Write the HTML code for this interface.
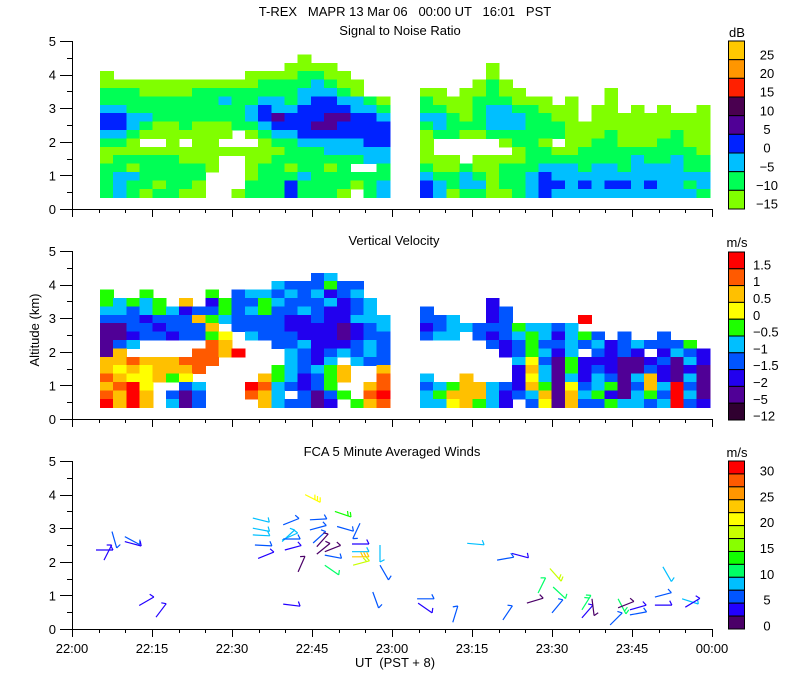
<!DOCTYPE html>
<html><head><meta charset="utf-8"><title>T-REX MAPR</title>
<style>
html,body{margin:0;padding:0;background:#fff;}
svg{display:block;font-family:"Liberation Sans",sans-serif;}
text{fill:#000;font-size:13px;}
</style></head>
<body>
<svg id="chart" width="800" height="700" viewBox="0 0 800 700" xmlns="http://www.w3.org/2000/svg">
<rect width="800" height="700" fill="#fff"/>
<text x="405" y="16" text-anchor="middle" xml:space="preserve">T-REX   MAPR 13 Mar 06   00:00 UT   16:01   PST</text>
<text x="400" y="35" text-anchor="middle">Signal to Noise Ratio</text>
<text x="394" y="245" text-anchor="middle">Vertical Velocity</text>
<text x="392" y="456" text-anchor="middle">FCA 5 Minute Averaged Winds</text>
<text x="737" y="37" text-anchor="middle">dB</text>
<text x="737" y="247" text-anchor="middle">m/s</text>
<text x="737" y="457" text-anchor="middle">m/s</text>
<text x="395" y="667" text-anchor="middle" xml:space="preserve">UT  (PST + 8)</text>
<text transform="translate(39,330) rotate(-90)" text-anchor="middle" font-size="12">Altitude (km)</text>
<g id="layer"></g>
</svg>
<script>
// ---- data ----
const blockStartMin = [5.25, 65.25];
const colStepMin = 2.47;
const rowBaseKm = 0.35;
const rowStepKm = 0.25;
const snrLeft = [
"...............a......",
"..............aaaa....",
"a..........aaaabbaa...",
"aaaaaaaaaaaabbbbcbaa..",
"bbbaaaabbbbbbbbcccba..",
"bbbbbbbbbcbbccbcddccba",
"ccbbbbbbbbbcdccddddccb",
"ddccbbbbbbbcdedddeeddc",
"ddcbaabaaabbcdddeedddd",
"ccbaaaaaaa.abccddddddd",
"bba..a.aa...abbcccccdd",
"aaaaaaaaaaaaaabbbccccc",
"abbbbbaaa..aabbbbbbbcc",
"bbabbbbba..abbabbab..b",
"bccbbbbb...abbbcbbbbbb",
"bcbbabba...bbbdbbbbabc",
"bcbabbaa..abbbdbbba.bc"];
const snrRight = [
"......................",
".....a................",
".....a................",
"....aba...............",
"aa.aabaa......a.......",
"baaabbbaaa.a..a.......",
"bbaabccbbaaa.aa.a.a..a",
"ccbabcccbbaa.aaaaaaaaa",
"bcbbbcccbbbaaaaaaaaaaa",
"abbaabbbbbbaaabaaaabaa",
"a.....abba.aabbaaabbaa",
"a......abbaabbbbbbbbba",
"aaa.aaaabbbbbbbbcbbcbb",
"baabaabbbcccbccbccccbb",
"cbbcbabbcdcccccccccccc",
"dcbccabbcddcdcddcdccbc",
"dcabbaabcdcccccccccccb"];
const velLeft = [
"......................",
"................bc....",
".............cbbbgbb..",
"g..g....g.bccbcbcBbc..",
"gcgcg.y.BgbbgcbbbcBbc.",
"ccbcgcBbbgbcgbbcbBBbc.",
"bbbBbbbygcbbbbBBbBBccc",
"ppbbBbbby.bbbbBBBBpBbc",
"ppBbbBbbgY.cbbbBBBpBbb",
"pbc.....oy...bbcBBBbcb",
"py.....ooyr...cbBbcbcb",
"yyoyyyooo.....cbBc.cbb",
"yYyYyyyo.....gcbcgy..y",
"oyYYygY.....ygcBbgy..o",
"yorY..bc...rocbBbg..yo",
"oyry.bpb...oyc.bpbg.or",
"ryry.cpb....ycbbpB.gyo"];
const velRight = [
"......................",
"......................",
"......................",
"......................",
".....B................",
"b....Bb...............",
"bbc..Bb.....r.........",
"Bbccbbbgccbc..........",
"bcc.bBbcgcBcgb.b..b...",
".....bBbgbbcbcBbcbbbg.",
"......BbgcBc.bBbB.BcbB",
".......cYbpgBBBppBbpcB",
".......BycpgBbBppbBpBp",
"c..y...BYcpcBcbpcyBpcp",
"bcgyycbBygpYbcgpbycrbp",
"cgyyycBbcypycgBpcgbrcp",
"ccYygcB.bYpybbgccbcrbB"];
const snrColors = {a:'#80ff00',b:'#00ff55',c:'#00bfff',d:'#0022ff',e:'#500096',f:'#4a0050'};
const velColors = {r:'#ff0000',o:'#ff5a00',y:'#ffc000',Y:'#ffff00',g:'#1eff00',c:'#00bfff',b:'#0055ff',B:'#2200ee',p:'#500096',k:'#300030'};
const snrBarLabels = ['25','20','15','10','5','0','\u22125','\u221210','\u221215'];
const snrBarColors = ['#ffc800','#ff9600','#ff2000','#4a0050','#500096','#0022ff','#00bfff','#00ff55','#80ff00'];
const velBarLabels = ['1.5','1','0.5','0','\u22120.5','\u22121','\u22121.5','\u22122','\u22125','\u221212'];
const velBarColors = ['#ff0000','#ff5a00','#ffc000','#ffff00','#1eff00','#00bfff','#0055ff','#2200ee','#500096','#300030'];
const windBarColors = ['#ff0000','#ff5a00','#ff9600','#ffc800','#ffff00','#c8ff00','#88ff00','#11ff00','#00ff66','#00bfff','#0055ff','#2200ff','#4b0068'];
const windBarLabels = ['30','25','20','15','10','5','0'];
const windTime = [4.5,6.0,7.5,9.9,9.9,12.6,15.75,33.9,33.9,33.9,34.3,34.9,39.6,39.4,39.4,39.6,39.9,42.4,39.6,44.6,44.6,45.2,45.9,45.9,47.4,47.4,47.4,43.7,49.3,49.7,54.0,52.5,52.5,52.5,52.7,57.75,57.75,56.4,74.1,79.7,82.5,64.7,64.9,71.4,80.8,85.3,87.4,89.6,90.2,90.0,95.6,95.6,97.5,100.9,102.4,102.4,104.6,104.6,109.3,109.3,110.8,114.4,115.0];
const windAlt = [2.35,2.05,2.9,2.75,2.6,0.7,0.35,3.3,3.0,2.8,2.5,2.1,3.1,2.6,2.65,2.68,2.35,1.7,0.74,3.25,2.95,2.56,2.45,2.23,2.3,2.2,1.9,4.0,3.5,3.05,3.15,2.53,2.3,2.15,1.9,2.5,1.9,1.1,2.55,2.05,2.25,0.9,0.77,0.2,0.27,0.77,1.07,1.8,1.25,0.48,0.57,0.33,0.9,0.12,0.9,0.63,0.57,0.42,0.95,0.71,1.85,0.9,0.65];
const windDir = [0,-63,74,28,15,-30,-53,14,11,3,3,-22,-22,-43,-24,0,-15,-66,7,-3,-15,-42,-48,-39,-22,11,35,27,19,16,115,0,0,0,-15,90,60,70,5,-10,15,0,35,-73,-56,-17,-64,48,43,-50,-58,-49,83,-45,63,-22,-16,-10,-15,0,60,18,-31];
const windSpeed = [4,4,6,6,4,4,4,8,8,8,6,4,6,8,8,5,4,2,4,6,6,6,2,2,2,6,11,21,13,5,5,4,8,23,18,8,5,5,8,5,4,5,4,5,5,2,11,18,10,5,12,4,2,5,12,2,4,5,5,4,8,8,4];
const xTickLabels = ['22:00','22:15','22:30','22:45','23:00','23:15','23:30','23:45','00:00'];
const yTickLabels = ['0','1','2','3','4','5'];

// ---- scales ----
const NS='http://www.w3.org/2000/svg';
const layer=document.getElementById('layer');
const panelBase=[209,419,629];
const KM=33.6;
const xOf=t=>72+t*640/120;
const yOf=(p,a)=>panelBase[p]-a*KM;
function mk(tag,attrs,parent){const e=document.createElementNS(NS,tag);for(const k in attrs)e.setAttribute(k,attrs[k]);(parent||layer).appendChild(e);return e;}

function drawField(p,grids,colors,name){
  const g=mk('g',{'shape-rendering':'crispEdges'});
  
  
  grids.forEach((rows,bi)=>{
    const nRows=rows.length;
    rows.forEach((row,ri)=>{
      const level=nRows-1-ri;
      for(let ci=0;ci<row.length;ci++){
        const ch=row[ci]; if(!colors[ch]) continue;
        const t0=blockStartMin[bi]+ci*colStepMin;
        const x0=xOf(t0), x1=xOf(t0+colStepMin);
        const yTop=yOf(p,rowBaseKm+(level+1)*rowStepKm), yBot=yOf(p,rowBaseKm+level*rowStepKm);
        const r=mk('rect',{x:x0.toFixed(2),y:yTop.toFixed(2),width:(x1-x0+0.6).toFixed(2),height:(yBot-yTop+0.6).toFixed(2),fill:colors[ch]},g);
        
        
      }
    });
  });
}

function drawAxes(p,showLabels){
  const g=mk('g',{stroke:'#000','stroke-width':1,fill:'none'});
  
  
  const y0=yOf(p,0);
  mk('line',{x1:72.5,y1:yOf(p,5),x2:72.5,y2:y0+0.5},g);
  mk('line',{x1:72,y1:y0+0.5,x2:712.5,y2:y0+0.5},g);
  for(let k=0;k<=10;k++){
    const yy=Math.round(yOf(p,k/2))+0.5;
    mk('line',{x1:k%2?67:60,y1:yy,x2:72,y2:yy},g);
  }
  for(let m=0;m<=120;m+=5){
    const xx=Math.round(xOf(m))+0.5;
    mk('line',{x1:xx,y1:y0,x2:xx,y2:y0+(m%15?4:8)},g);
  }
  yTickLabels.forEach((lb,i)=>{
    const t=mk('text',{x:56,y:yOf(p,i)+5,'text-anchor':'end'});
    t.textContent=lb;
    
    
  });
  if(showLabels){
    xTickLabels.forEach((lb,i)=>{
      const t=mk('text',{x:xOf(i*15),y:y0+24,'text-anchor':'middle'});
      t.textContent=lb;
      
      
    });
  }
}

function drawBar(top,bottom,colors,labels,labelMode,name){
  const g=mk('g',{});
  
  
  const n=colors.length, h=(bottom-top)/n;
  colors.forEach((c,i)=>{
    const r=mk('rect',{x:728.5,y:(top+i*h).toFixed(2),width:16,height:h.toFixed(2),fill:c,stroke:'#000','stroke-width':1},g);
    
    
  });
  labels.forEach((lb,i)=>{
    let y,x=labelMode==='left'?753:767,anchor=labelMode==='left'?'start':'middle';
    if(labelMode==='wind') y=top+h*(i*2+0.5)+5+3; else y=top+h*(i+0.5)+5+4;
    const t=mk('text',{x:x,y:y.toFixed(1),'text-anchor':anchor},g);
    t.textContent=lb;
    
    
  });
}

function windColor(s){let idx=12-Math.floor(s/2.5);if(idx<0)idx=0;if(idx>12)idx=12;return windBarColors[idx];}
function drawWinds(){
  const g=mk('g',{fill:'none','stroke-width':1.2});
  
  
  const L=17;
  windTime.forEach((t,i)=>{
    const x0=xOf(t), y0=yOf(2,windAlt[i]);
    const a=windDir[i]*Math.PI/180;
    const x1=x0+L*Math.cos(a), y1=y0+L*Math.sin(a);
    const col=windColor(windSpeed[i]);
    const b=mk('g',{stroke:col},g);
    
    
    mk('line',{x1:x0.toFixed(1),y1:y0.toFixed(1),x2:x1.toFixed(1),y2:y1.toFixed(1)},b);
    const nf=Math.max(1,Math.round(windSpeed[i]/8));
    for(let f=0;f<nf;f++){
      const bx=x1-f*3*Math.cos(a), by=y1-f*3*Math.sin(a);
      const fa=a-Math.PI*0.65;
      mk('line',{x1:bx.toFixed(1),y1:by.toFixed(1),x2:(bx+5*Math.cos(fa)).toFixed(1),y2:(by+5*Math.sin(fa)).toFixed(1)},b);
    }
  });
}

drawField(0,[snrLeft,snrRight],snrColors,'snr-field');
drawField(1,[velLeft,velRight],velColors,'velocity-field');
drawWinds();
drawAxes(0,false);
drawAxes(1,false);
drawAxes(2,true);
drawBar(41,209,snrBarColors,snrBarLabels,'mid','snr-colorbar');
drawBar(252,420,velBarColors,velBarLabels,'left','velocity-colorbar');
drawBar(461,629,windBarColors,windBarLabels,'wind','wind-colorbar');
</script>
</body></html>
